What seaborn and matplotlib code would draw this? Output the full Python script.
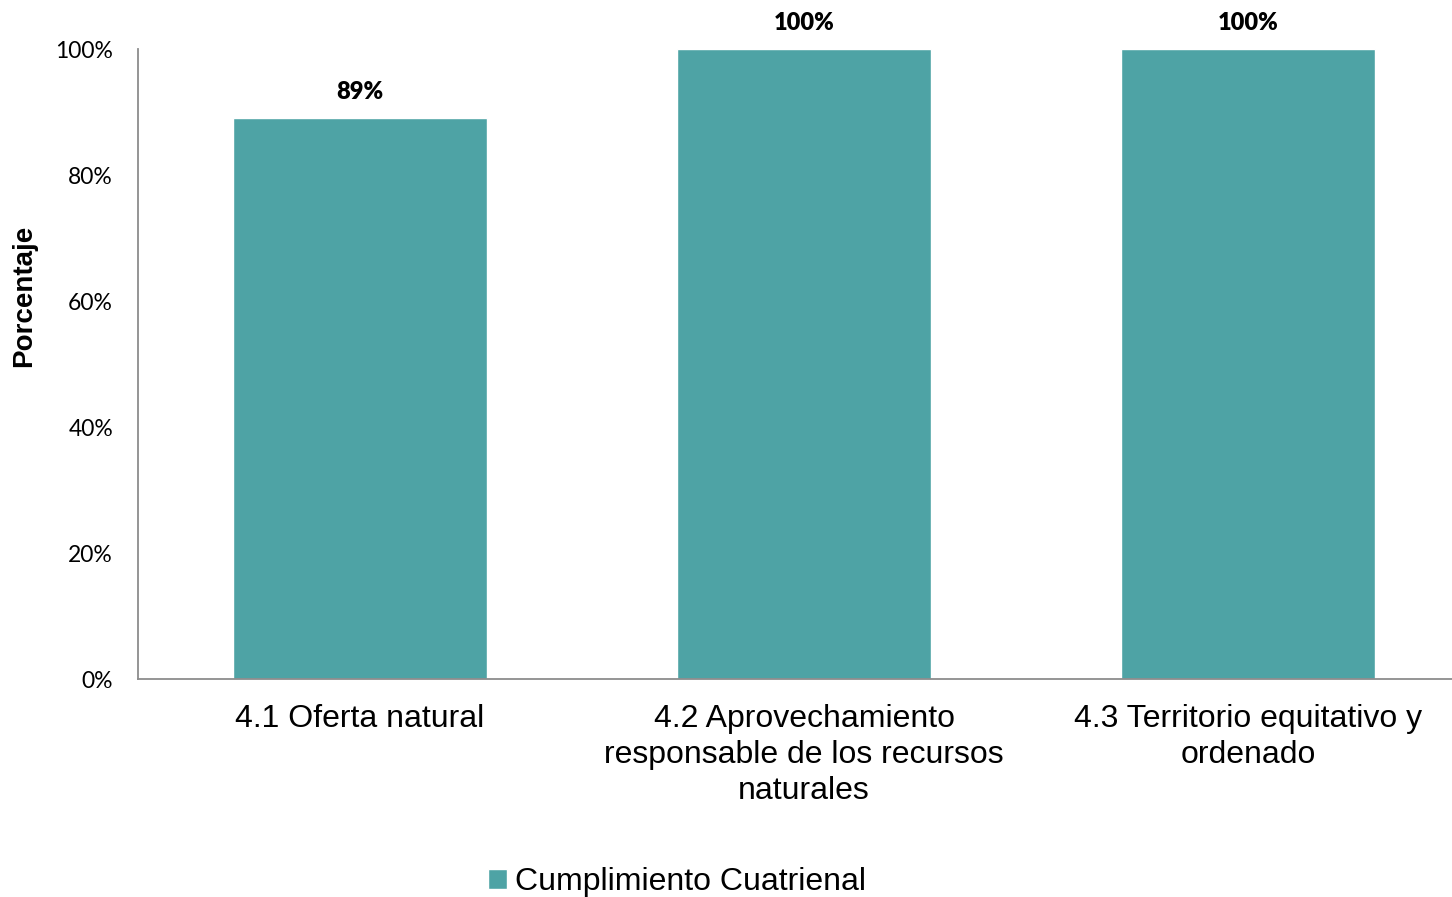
import pandas as pd
import matplotlib
matplotlib.use('Agg')
import matplotlib.pyplot as plt
from matplotlib.patches import Patch
from matplotlib.ticker import PercentFormatter
import seaborn as sns

categorias = ['4.1 Oferta natural',
              '4.2 Aprovechamiento\nresponsable de los recursos\nnaturales',
              '4.3 Territorio equitativo y\nordenado']
cumplimiento = [89, 100, 100]
serie = 'Cumplimiento Cuatrienal'
color_barra = '#4EA3A5'

df = pd.DataFrame({'Categoria': categorias, 'Valor': cumplimiento})

sns.set_style('white')
plt.rcParams['font.family'] = ['Liberation Sans', 'DejaVu Sans']
plt.rcParams['text.color'] = 'black'
plt.rcParams['xtick.color'] = 'black'
plt.rcParams['ytick.color'] = 'black'
plt.rcParams['axes.labelcolor'] = 'black'

fig = plt.figure(figsize=(14.52, 8.97), dpi=100)
ax = fig.add_axes([138 / 1452, 1 - 679 / 897, 1332 / 1452, 630 / 897])

sns.barplot(data=df, x='Categoria', y='Valor', color=color_barra,
            width=0.572, saturation=1, ax=ax)

ax.set_ylim(0, 100)
ax.set_xlim(-0.5, 2.5)
ax.set_yticks(range(0, 101, 20))
ax.yaxis.set_major_formatter(PercentFormatter(decimals=0))
for lbl in ax.get_yticklabels():
    lbl.set_fontfamily('Lato')
    lbl.set_fontsize(16.5)
ax.tick_params(axis='y', length=0, pad=18)
ax.tick_params(axis='x', length=0, pad=18, labelsize=23)
for lbl in ax.get_xticklabels():
    lbl.set_linespacing(1.25)

ax.set_xlabel('')
ax.set_ylabel('Porcentaje', fontsize=20, fontweight='bold')
ax.yaxis.set_label_coords(-0.076, 0.608)

sns.despine(ax=ax)
for side in ['left', 'bottom']:
    ax.spines[side].set_color('#8C8C8C')
    ax.spines[side].set_linewidth(1.3)

for bar, val in zip(ax.patches, cumplimiento):
    ax.annotate(f'{val}%', (bar.get_x() + bar.get_width() / 2, bar.get_height()),
                xytext=(0, 19), textcoords='offset points', ha='center', va='center',
                fontsize=17, fontweight='heavy', family='Lato')

fig.legend(handles=[Patch(facecolor=color_barra, label=serie)],
           loc='center', bbox_to_anchor=(677 / 1452, 1 - 882 / 897),
           frameon=False, fontsize=23, handlelength=0.6, handleheight=0.6,
           handletextpad=0.25)

fig.savefig('out.png', dpi=100)
